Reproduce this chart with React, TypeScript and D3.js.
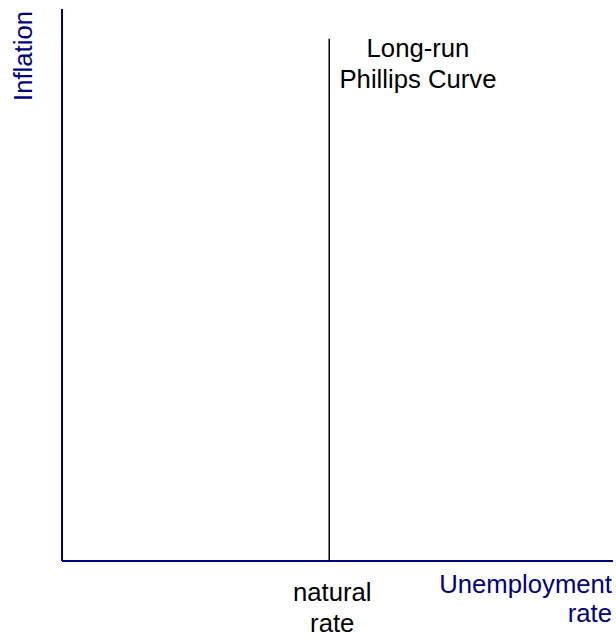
import React, { useEffect, useRef } from "react";
import * as d3 from "d3";

// conceptual chart: values are positions on unitless axes (0..1)
const xDomain = [0, 1];
const yDomain = [0, 1];
const naturalRate = [0.485];
const lrpcTop = [0.946];
const xAxisLabel = ["Unemployment", "rate"];
const yAxisLabel = ["Inflation"];
const naturalLabel = ["natural", "rate"];
const curveLabel = ["Long-run", "Phillips Curve"];

const width = 616;
const height = 638;
const margin = { top: 9, right: 3, bottom: 77, left: 62 };
const navy = "#000080";
const font = "'Liberation Sans', Arial, sans-serif";

export default function App() {
  const ref = useRef<SVGSVGElement>(null);

  useEffect(() => {
    const svg = d3.select(ref.current);
    svg.selectAll("*").remove();

    const x = d3
      .scaleLinear()
      .domain(xDomain)
      .range([margin.left, width - margin.right]);
    const y = d3
      .scaleLinear()
      .domain(yDomain)
      .range([height - margin.bottom, margin.top]);

    // axes
    svg
      .append("line")
      .attr("x1", x(0))
      .attr("x2", x(0))
      .attr("y1", y(1))
      .attr("y2", y(0))
      .attr("stroke", navy)
      .attr("stroke-width", 2);
    svg
      .append("line")
      .attr("x1", x(0))
      .attr("x2", x(1))
      .attr("y1", y(0))
      .attr("y2", y(0))
      .attr("stroke", navy)
      .attr("stroke-width", 2);

    // long-run phillips curve
    svg
      .selectAll("line.lrpc")
      .data(naturalRate)
      .enter()
      .append("line")
      .attr("class", "lrpc")
      .attr("x1", (d) => x(d))
      .attr("x2", (d) => x(d))
      .attr("y1", y(lrpcTop[0]))
      .attr("y2", y(0))
      .attr("stroke", "#000")
      .attr("stroke-width", 1.5);

    const txt = (
      lines: string[],
      tx: number,
      ty: number,
      anchor: string,
      color: string,
      gap: number
    ) => {
      const t = svg
        .append("text")
        .attr("font-family", font)
        .attr("font-size", 25.7)
        .attr("fill", color)
        .attr("text-anchor", anchor);
      lines.forEach((l, i) => {
        t.append("tspan")
          .attr("x", tx)
          .attr("y", ty + i * gap)
          .text(l);
      });
    };

    txt(naturalLabel, x(naturalRate[0]) + 3, 601, "middle", "#000", 31);
    txt(xAxisLabel, x(1) - 1, 593, "end", navy, 29);
    txt(curveLabel, 418, 57, "middle", "#000", 31);

    svg
      .append("text")
      .attr("font-family", font)
      .attr("font-size", 25.7)
      .attr("fill", navy)
      .attr("text-anchor", "middle")
      .attr("transform", "translate(32,56) rotate(-90)")
      .text(yAxisLabel[0]);
  }, []);

  return (
    <svg
      ref={ref}
      width={width}
      height={height}
      style={{ position: "absolute", left: 0, top: 0, background: "#fff" }}
    />
  );
}
